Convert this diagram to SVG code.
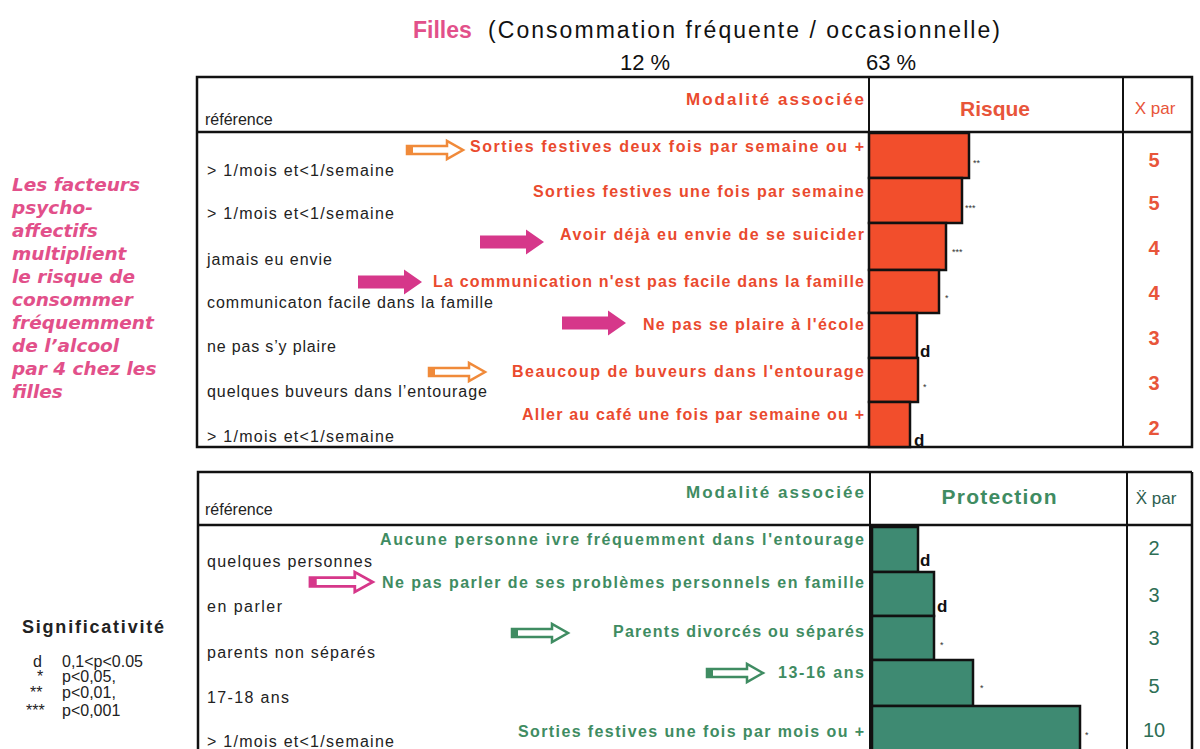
<svg xmlns="http://www.w3.org/2000/svg" width="1200" height="749" viewBox="0 0 1200 749">
<style>
.ref{font-family:"Liberation Sans",Arial,sans-serif;font-size:16px;fill:#222}
.rl{font-family:"Liberation Sans",Arial,sans-serif;font-size:16px;font-weight:bold;fill:#ea4a2e;text-anchor:end}
.gl{font-family:"Liberation Sans",Arial,sans-serif;font-size:16px;font-weight:bold;fill:#3f8c62;text-anchor:end}
.hd{font-size:17px}
.rn{font-family:"Liberation Sans",Arial,sans-serif;font-size:20px;font-weight:bold;fill:#e8553a;text-anchor:middle}
.gn{font-family:"Liberation Sans",Arial,sans-serif;font-size:20px;fill:#2e6e55;text-anchor:middle}
.sig{font-family:"Liberation Sans",Arial,sans-serif;font-size:9px;fill:#333}
.sd{font-family:"Liberation Sans",Arial,sans-serif;font-size:17px;font-weight:bold;fill:#111}
.pk{font-family:"DejaVu Sans",Verdana,sans-serif;font-size:18.5px;font-weight:bold;font-style:italic;fill:#e2508a}
.lg{font-family:"Liberation Sans",Arial,sans-serif;font-size:16px;fill:#222}
.frame{fill:none;stroke:#111;stroke-width:2.5}
.rbar{fill:#f24e2c;stroke:#111;stroke-width:2.5}
.gbar{fill:#3e8a72;stroke:#111;stroke-width:2.5}
</style>
<defs>
<g id="arrowOut">
<path d="M0,-4 H40 V-9 L56,0 L40,9 V4 H0 Z" fill="#fff" stroke-width="2.5"/>
<rect x="0" y="-4" width="6" height="8" stroke="none"/>
</g>
<path id="arrowSolid" d="M0,-6.5 H46 V-12.5 L64,0 L46,12.5 V6.5 H0 Z"/>
</defs>

<!-- Title -->
<g id="title">
<text x="413" y="38" font-family="Liberation Sans,Arial,sans-serif" font-size="23" font-weight="bold" fill="#e2508a">Filles</text>
<text x="488" y="38" font-family="Liberation Sans,Arial,sans-serif" font-size="23" fill="#111" textLength="512" lengthAdjust="spacing">(Consommation fréquente / occasionnelle)</text>
<text x="620" y="70" font-family="Liberation Sans,Arial,sans-serif" font-size="22" fill="#111">12 %</text>
<text x="866" y="70" font-family="Liberation Sans,Arial,sans-serif" font-size="22" fill="#111">63 %</text>
</g>

<!-- Left pink note -->
<g id="note">
<text class="pk" x="12" y="191">Les facteurs</text>
<text class="pk" x="12" y="214">psycho-</text>
<text class="pk" x="12" y="237">affectifs</text>
<text class="pk" x="12" y="260">multiplient</text>
<text class="pk" x="12" y="283">le risque de</text>
<text class="pk" x="12" y="306">consommer</text>
<text class="pk" x="12" y="329">fréquemment</text>
<text class="pk" x="12" y="352">de l’alcool</text>
<text class="pk" x="12" y="375">par 4 chez les</text>
<text class="pk" x="12" y="398">filles</text>
</g>

<!-- Legend -->
<g id="legend">
<text x="22" y="633" font-family="Liberation Sans,Arial,sans-serif" font-size="18" font-weight="bold" fill="#222" textLength="142" lengthAdjust="spacing">Significativité</text>
<text class="lg" x="33" y="667">d</text><text class="lg" x="62" y="667">0,1&lt;p&lt;0.05</text>
<text class="lg" x="37" y="682">*</text><text class="lg" x="62" y="682">p&lt;0,05,</text>
<text class="lg" x="30" y="698">**</text><text class="lg" x="62" y="698">p&lt;0,01,</text>
<text class="lg" x="26" y="716">***</text><text class="lg" x="62" y="716">p&lt;0,001</text>
</g>

<!-- Risk table -->
<g id="risk-table">
<rect class="frame" x="197" y="77" width="995" height="370"/>
<line x1="197" y1="132" x2="1192" y2="132" stroke="#111" stroke-width="2.5"/>
<line x1="869" y1="77" x2="869" y2="447" stroke="#111" stroke-width="2"/>
<line x1="1123" y1="77" x2="1123" y2="447" stroke="#111" stroke-width="2"/>
<text class="ref" x="205" y="125" font-size="15">référence</text>
<text class="rl hd" x="864" y="105" textLength="178" lengthAdjust="spacing">Modalité associée</text>
<text x="995" y="116" font-family="Liberation Sans,Arial,sans-serif" font-size="21" font-weight="bold" fill="#e8553a" text-anchor="middle">Risque</text>
<text x="1155" y="114" font-family="Liberation Sans,Arial,sans-serif" font-size="17" fill="#e8553a" text-anchor="middle">X par</text>
</g>

<g id="risk-rows">
<text class="ref" x="207" y="176" textLength="187" lengthAdjust="spacing">&gt; 1/mois et&lt;1/semaine</text>
<text class="ref" x="207" y="219" textLength="187" lengthAdjust="spacing">&gt; 1/mois et&lt;1/semaine</text>
<text class="ref" x="207" y="265" textLength="125" lengthAdjust="spacing">jamais eu envie</text>
<text class="ref" x="207" y="308" textLength="286" lengthAdjust="spacing">communicaton facile dans la famille</text>
<text class="ref" x="207" y="352" textLength="129" lengthAdjust="spacing">ne pas s’y plaire</text>
<text class="ref" x="207" y="397" textLength="280" lengthAdjust="spacing">quelques buveurs dans l’entourage</text>
<text class="ref" x="207" y="442" textLength="187" lengthAdjust="spacing">&gt; 1/mois et&lt;1/semaine</text>

<text class="rl" x="864" y="152" textLength="394" lengthAdjust="spacing">Sorties festives deux fois par semaine ou +</text>
<text class="rl" x="864" y="197" textLength="331" lengthAdjust="spacing">Sorties festives une fois par semaine</text>
<text class="rl" x="864" y="240" textLength="304" lengthAdjust="spacing">Avoir déjà eu envie de se suicider</text>
<text class="rl" x="864" y="287" textLength="431" lengthAdjust="spacing">La communication n'est pas facile dans la famille</text>
<text class="rl" x="864" y="330" textLength="221" lengthAdjust="spacing">Ne pas se plaire à l'école</text>
<text class="rl" x="864" y="377" textLength="352" lengthAdjust="spacing">Beaucoup de buveurs dans l'entourage</text>
<text class="rl" x="864" y="420" textLength="342" lengthAdjust="spacing">Aller au café une fois par semaine ou +</text>

<rect class="rbar" x="869" y="133" width="100" height="45"/>
<rect class="rbar" x="869" y="178" width="93" height="45"/>
<rect class="rbar" x="869" y="223" width="77" height="47"/>
<rect class="rbar" x="869" y="270" width="70" height="43"/>
<rect class="rbar" x="869" y="313" width="48" height="45"/>
<rect class="rbar" x="869" y="358" width="49" height="44"/>
<rect class="rbar" x="869" y="402" width="41" height="45"/>

<text class="sig" x="973" y="166">**</text>
<text class="sig" x="965" y="211">***</text>
<text class="sig" x="952" y="255">***</text>
<text class="sig" x="945" y="301">*</text>
<text class="sd" x="920" y="357">d</text>
<text class="sig" x="923" y="390">*</text>
<text class="sd" x="914" y="446">d</text>

<text class="rn" x="1154" y="167">5</text>
<text class="rn" x="1154" y="210">5</text>
<text class="rn" x="1154" y="255">4</text>
<text class="rn" x="1154" y="300">4</text>
<text class="rn" x="1154" y="345">3</text>
<text class="rn" x="1154" y="390">3</text>
<text class="rn" x="1154" y="435">2</text>
</g>

<!-- Protection table -->
<g id="protection-table">
<polyline points="1192,472 198,472 198,749" fill="none" stroke="#111" stroke-width="2.5"/>
<line x1="1192" y1="472" x2="1192" y2="749" stroke="#111" stroke-width="2.5"/>
<line x1="198" y1="525" x2="1192" y2="525" stroke="#111" stroke-width="2.5"/>
<line x1="870" y1="472" x2="870" y2="749" stroke="#111" stroke-width="2"/>
<line x1="1127" y1="472" x2="1127" y2="749" stroke="#111" stroke-width="2"/>
<text class="ref" x="205" y="515" font-size="15">référence</text>
<text class="gl hd" x="864" y="498" textLength="178" lengthAdjust="spacing">Modalité associée</text>
<text x="999" y="504" font-family="Liberation Sans,Arial,sans-serif" font-size="21" font-weight="bold" fill="#3f8c62" text-anchor="middle" textLength="115" lengthAdjust="spacing">Protection</text>
<text x="1156" y="504" font-family="Liberation Sans,Arial,sans-serif" font-size="17" fill="#2e5e50" text-anchor="middle">Ẍ par</text>
</g>

<g id="protection-rows">
<text class="ref" x="207" y="567" textLength="165" lengthAdjust="spacing">quelques personnes</text>
<text class="ref" x="207" y="612" textLength="75" lengthAdjust="spacing">en parler</text>
<text class="ref" x="207" y="658" textLength="168" lengthAdjust="spacing">parents non séparés</text>
<text class="ref" x="207" y="703" textLength="82" lengthAdjust="spacing">17-18 ans</text>
<text class="ref" x="207" y="747" textLength="187" lengthAdjust="spacing">&gt; 1/mois et&lt;1/semaine</text>

<text class="gl" x="864" y="545" textLength="484" lengthAdjust="spacing">Aucune personne ivre fréquemment dans l'entourage</text>
<text class="gl" x="864" y="588" textLength="482" lengthAdjust="spacing">Ne pas parler de ses problèmes personnels en famille</text>
<text class="gl" x="864" y="637" textLength="251" lengthAdjust="spacing">Parents divorcés ou séparés</text>
<text class="gl" x="864" y="678" textLength="86" lengthAdjust="spacing">13-16 ans</text>
<text class="gl" x="864" y="737" textLength="346" lengthAdjust="spacing">Sorties festives une fois par mois ou +</text>

<rect class="gbar" x="872" y="527" width="46" height="45"/>
<rect class="gbar" x="872" y="572" width="62" height="44"/>
<rect class="gbar" x="872" y="616" width="62" height="44"/>
<rect class="gbar" x="872" y="660" width="101" height="46"/>
<rect class="gbar" x="872" y="706" width="208" height="46"/>

<text class="sd" x="920" y="566">d</text>
<text class="sd" x="937" y="612">d</text>
<text class="sig" x="940" y="648">*</text>
<text class="sig" x="980" y="691">*</text>
<text class="sig" x="1085" y="738">*</text>

<text class="gn" x="1154" y="555">2</text>
<text class="gn" x="1154" y="602">3</text>
<text class="gn" x="1154" y="645">3</text>
<text class="gn" x="1154" y="693">5</text>
<text class="gn" x="1154" y="737">10</text>
</g>

<!-- Connectors (arrows) -->
<g id="connectors">
<use href="#arrowOut" transform="translate(407,150)" stroke="#f08a3a" fill="#f08a3a"/>
<use href="#arrowSolid" transform="translate(480,242)" fill="#d6378a"/>
<use href="#arrowSolid" transform="translate(358,282)" fill="#d6378a"/>
<use href="#arrowSolid" transform="translate(562,323)" fill="#d6378a"/>
<use href="#arrowOut" transform="translate(429,372)" stroke="#f08a3a" fill="#f08a3a"/>
<use href="#arrowOut" transform="translate(310,582) scale(1.12,1.1)" stroke="#d6378a" fill="#d6378a"/>
<use href="#arrowOut" transform="translate(512,633)" stroke="#3f8c62" fill="#3f8c62"/>
<use href="#arrowOut" transform="translate(707,673)" stroke="#3f8c62" fill="#3f8c62"/>
</g>
</svg>
